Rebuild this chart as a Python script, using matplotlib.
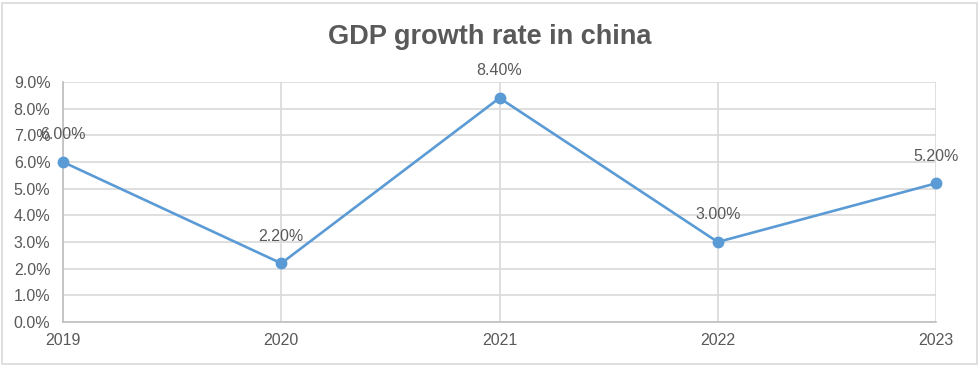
import matplotlib.pyplot as plt
from matplotlib.patches import Rectangle
from matplotlib.ticker import FuncFormatter

years = ['2019', '2020', '2021', '2022', '2023']
growth = [6.0, 2.2, 8.4, 3.0, 5.2]
labels = ['6.00%', '2.20%', '8.40%', '3.00%', '5.20%']

plt.rcParams['font.family'] = ['Liberation Sans', 'DejaVu Sans']
grey = '#595959'
grid_c = '#d9d9d9'
blue = '#5b9bd5'

fig = plt.figure(figsize=(9.8, 3.66), dpi=100)
ax = fig.add_axes([63 / 980, 1 - 322 / 366, (936 - 63) / 980, (322 - 82) / 366])

x = list(range(len(years)))
ax.plot(x, growth, color=blue, lw=1.9, marker='o', ms=7.5, zorder=3, clip_on=False)

# 数据标签在点的上方
for xi, yi, lab in zip(x, growth, labels):
    ax.annotate(lab, (xi, yi), xytext=(0, 19.5), textcoords='offset points',
                ha='center', va='center', fontsize=11.5, color=grey)

ax.set_xlim(0, len(years) - 1)
ax.set_ylim(0, 9)
ax.set_xticks(x)
ax.set_xticklabels(years)
ax.set_yticks(range(10))
ax.yaxis.set_major_formatter(FuncFormatter(lambda v, p: f'{v:.1f}%'))
ax.tick_params(axis='both', length=0, labelsize=11.5, colors=grey)
ax.tick_params(axis='y', pad=9)
ax.tick_params(axis='x', pad=8)

ax.grid(True, color=grid_c, lw=1.2)
ax.set_axisbelow(True)
for s in ['top', 'right']:
    ax.spines[s].set_visible(False)
for s in ['left', 'bottom']:
    ax.spines[s].set_color('#bfbfbf')
    ax.spines[s].set_linewidth(1.2)

fig.text(0.5, 0.899, 'GDP growth rate in china', ha='center', va='center',
         fontsize=19.5, fontweight='bold', color=grey)

# 外边框
fig.patches.append(Rectangle((2 / 980, 2 / 366), 975 / 980, 361 / 366,
                             transform=fig.transFigure, fill=False,
                             edgecolor='#d9d9d9', lw=1.2))

fig.savefig('out.png', dpi=100)
